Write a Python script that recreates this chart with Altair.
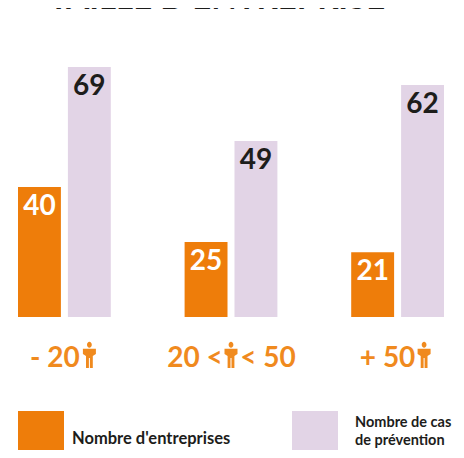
import altair as alt
import pandas as pd

groups = ["- 20", "20 < 50", "+ 50"]
series = ["Nombre d'entreprises", "Nombre de cas de prévention"]
colors = ["#EE7D0A", "#E2D4E6"]
# printed figures
companies = [40, 25, 21]
cases = [69, 49, 62]
# bar lengths as drawn in the picture (the original is not to scale), common unit
companies_drawn = [35.9, 20.7, 17.9]
cases_drawn = [69, 48.6, 64]
label_left = ["- 20", "20 <", "+ 50"]
label_right = ["", "< 50", ""]
legend_lines = ["Nombre d'entreprises", "Nombre de cas", "de prévention"]
title_text = "TAILLE D'ENTREPRISE"

FONT = "Lato"
INK = "#1d1d1b"
ORANGE = "#F08A1E"
PERSON = ("M-.24,-1.02 a.24,.3 0 1,1 .48,0 a.24,.3 0 1,1 -.48,0 Z "
          "M-.65,-.62 L.65,-.62 L.65,-.1 L.34,.1 L.34,1.3 L.05,1.3 L.05,.3 L-.05,.3 L-.05,1.3 L-.34,1.3 L-.34,.1 L-.65,-.1 Z")

rows = []
for g, a, b, ad, bd in zip(groups, companies, cases, companies_drawn, cases_drawn):
    rows.append({"group": g, "series": series[0], "value": a, "drawn": ad})
    rows.append({"group": g, "series": series[1], "value": b, "drawn": bd})
df = pd.DataFrame(rows)

x = alt.X("group:N", sort=groups, axis=None,
          scale=alt.Scale(range=[10, 436], paddingInner=0.443, paddingOuter=0))
xo = alt.XOffset("series:N", sort=series,
                 scale=alt.Scale(paddingInner=0.14, paddingOuter=0))
y = alt.Y("drawn:Q", axis=None, scale=alt.Scale(domain=[0, 69], range=[309, 59]))

bars = alt.Chart(df).mark_bar(cornerRadius=0).encode(
    x=x, xOffset=xo, y=y,
    color=alt.Color("series:N", sort=series,
        scale=alt.Scale(domain=series, range=colors),
        legend=alt.Legend(
            title=None, orient="none", legendX=10, legendY=403,
            direction="horizontal", columns=2, symbolType="square",
            symbolSize=2116, symbolStrokeWidth=0, symbolOpacity=1,
            labelExpr="''", labelOffset=0, labelFontSize=1,
            columnPadding=228, padding=0, clipHeight=46,
        )),
)

values = alt.Chart(df).mark_text(font=FONT, fontSize=28, fontWeight="bold", dy=20, baseline="middle").encode(
    x=x, xOffset=xo, y=y,
    text="value:Q",
    color=alt.condition(alt.datum.series == series[0], alt.value("#ffffff"), alt.value(INK)),
)

def cat_text_for(g, t, off):
    return alt.Chart(pd.DataFrame({"group": [g], "t": [t]})).mark_text(
        font=FONT, fontSize=28, fontWeight="bold", color=ORANGE, baseline="middle", xOffset=off
    ).encode(x=x, y=alt.value(351), text="t:N")

def icon_for(g, off):
    return alt.Chart(pd.DataFrame({"group": [g]})).mark_point(
        shape=PERSON, size=400, filled=True, color=ORANGE, opacity=1, strokeWidth=0, xOffset=off
    ).encode(x=x, y=alt.value(347))

cats = [
    cat_text_for(groups[0], label_left[0], -9.5), icon_for(groups[0], 25),
    cat_text_for(groups[1], label_left[1], -36), icon_for(groups[1], 0),
    cat_text_for(groups[1], label_right[1], 37),
    cat_text_for(groups[2], label_left[2], -10), icon_for(groups[2], 26.5),
]

def legend_text(t, px, py, size):
    return alt.Chart(pd.DataFrame({"t": [t]})).mark_text(
        font=FONT, fontSize=size, fontWeight="bold", color=INK, align="left", baseline="middle"
    ).encode(x=alt.value(px), y=alt.value(py), text="t:N")

legend_texts = [
    legend_text(legend_lines[0], 64, 431, 16.5),
    legend_text(legend_lines[1], 347, 415, 14.5),
    legend_text(legend_lines[2], 347, 433, 14.5),
]

title = alt.Chart(pd.DataFrame({"t": [title_text]})).mark_text(
    font=FONT, fontSize=33, fontWeight="bold", color=INK, baseline="alphabetic"
).encode(x=alt.value(209), y=alt.value(1), text="t:N")

chart = alt.layer(bars, values, *cats, *legend_texts, title).properties(
    width=448, height=442, padding=0,
    autosize=alt.AutoSizeParams(type="none", contains="padding"),
    background="#ffffff",
).resolve_scale(x="shared").configure_view(stroke=None)

chart.save("out.html", embed_options={"renderer": "svg", "actions": False})
